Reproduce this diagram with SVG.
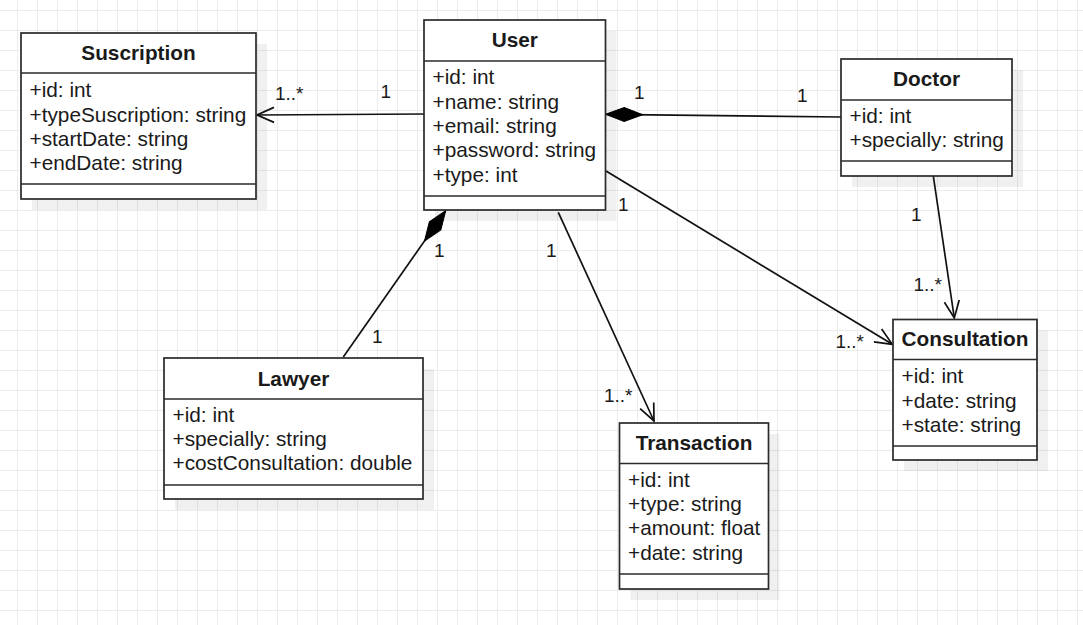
<svg xmlns="http://www.w3.org/2000/svg" width="1083" height="625" viewBox="0 0 1083 625">
<style>
.box{fill:#fff;stroke:#2a2a2a;stroke-width:1.7}
.sep{stroke:#2a2a2a;stroke-width:1.7}
.shadow{fill:#000;fill-opacity:0.06}
.title{font-family:"Liberation Sans",Arial,sans-serif;font-size:20.8px;font-weight:bold;fill:#1a1a1a;text-anchor:middle}
.attr{font-family:"Liberation Sans",Arial,sans-serif;font-size:20.8px;fill:#1a1a1a}
.lbl{font-family:"Liberation Sans",Arial,sans-serif;font-size:19px;fill:#1a1a1a}
.edge{fill:none;stroke:#111;stroke-width:1.7}
</style>
<defs>
<pattern id="grid" x="17" y="10" width="20" height="20" patternUnits="userSpaceOnUse">
<path d="M0.5 0V20M0 0.5H20" stroke="#ececec" stroke-width="1" fill="none"/>
</pattern>
<marker id="open" markerUnits="userSpaceOnUse" markerWidth="22" markerHeight="20" viewBox="-20 -10 22 20" refX="0" refY="0" orient="auto" overflow="visible">
<path d="M-17,-7.5 L0,0 L-17,7.5" fill="none" stroke="#111" stroke-width="1.7"/>
</marker>
<marker id="diamond" markerUnits="userSpaceOnUse" markerWidth="40" markerHeight="20" viewBox="0 -10 40 20" refX="0" refY="0" orient="auto" overflow="visible">
<path d="M0,0 L18.5,-7 L37,0 L18.5,7 Z" fill="#000" stroke="#000" stroke-width="1"/>
</marker>
</defs>
<rect width="1083" height="625" fill="#fff"/>
<rect width="1083" height="625" fill="url(#grid)"/>

<g id="connectors">
<path class="edge" d="M424,114 L257,115" marker-end="url(#open)"/>
<path class="edge" d="M605.7,114.3 L841,117" marker-start="url(#diamond)"/>
<path class="edge" d="M445.7,210.7 L343.3,357" marker-start="url(#diamond)"/>
<path class="edge" d="M558.3,212.3 L654,421" marker-end="url(#open)"/>
<path class="edge" d="M606,171 L892.3,344.3" marker-end="url(#open)"/>
<path class="edge" d="M933.3,176 L954.3,318" marker-end="url(#open)"/>
<text class="lbl" x="275" y="100">1..*</text>
<text class="lbl" x="380.5" y="98.3">1</text>
<text class="lbl" x="634" y="99">1</text>
<text class="lbl" x="797" y="101.7">1</text>
<text class="lbl" x="434" y="256.5">1</text>
<text class="lbl" x="372" y="343.3">1</text>
<text class="lbl" x="546" y="256.7">1</text>
<text class="lbl" x="604" y="402.3">1..*</text>
<text class="lbl" x="618" y="210.7">1</text>
<text class="lbl" x="835.5" y="348.3">1..*</text>
<text class="lbl" x="911" y="221">1</text>
<text class="lbl" x="913.5" y="290.7">1..*</text>
</g>

<g id="suscription">
<rect class="shadow" x="32" y="44" width="235" height="166"/>
<rect class="box" x="21" y="33" width="235" height="166"/>
<line class="sep" x1="21" y1="73" x2="256" y2="73"/>
<line class="sep" x1="21" y1="184" x2="256" y2="184"/>
<text class="title" x="138.5" y="60">Suscription</text>
<text class="attr" x="29.5" y="97.3">+id: int</text>
<text class="attr" x="29.5" y="121.6">+typeSuscription: string</text>
<text class="attr" x="29.5" y="145.9">+startDate: string</text>
<text class="attr" x="29.5" y="170.2">+endDate: string</text>
</g>

<g id="user">
<rect class="shadow" x="435" y="31" width="181.5" height="190"/>
<rect class="box" x="424" y="20" width="181.5" height="190"/>
<line class="sep" x1="424" y1="61" x2="605.5" y2="61"/>
<line class="sep" x1="424" y1="196" x2="605.5" y2="196"/>
<text class="title" x="514.75" y="47">User</text>
<text class="attr" x="432.5" y="84.3">+id: int</text>
<text class="attr" x="432.5" y="108.7">+name: string</text>
<text class="attr" x="432.5" y="133">+email: string</text>
<text class="attr" x="432.5" y="157.3">+password: string</text>
<text class="attr" x="432.5" y="181.7">+type: int</text>
</g>

<g id="doctor">
<rect class="shadow" x="852" y="70" width="171" height="117"/>
<rect class="box" x="841" y="59" width="171" height="117"/>
<line class="sep" x1="841" y1="100" x2="1012" y2="100"/>
<line class="sep" x1="841" y1="161" x2="1012" y2="161"/>
<text class="title" x="926.5" y="86">Doctor</text>
<text class="attr" x="849.5" y="122.7">+id: int</text>
<text class="attr" x="849.5" y="147">+specially: string</text>
</g>

<g id="lawyer">
<rect class="shadow" x="175" y="369" width="259" height="141"/>
<rect class="box" x="164" y="358" width="259" height="141"/>
<line class="sep" x1="164" y1="399" x2="423" y2="399"/>
<line class="sep" x1="164" y1="485" x2="423" y2="485"/>
<text class="title" x="293.5" y="385.5">Lawyer</text>
<text class="attr" x="172.5" y="421.7">+id: int</text>
<text class="attr" x="172.5" y="446">+specially: string</text>
<text class="attr" x="172.5" y="470.3">+costConsultation: double</text>
</g>

<g id="transaction">
<rect class="shadow" x="630.5" y="434" width="149" height="166"/>
<rect class="box" x="619.5" y="423" width="149" height="166"/>
<line class="sep" x1="619.5" y1="463.5" x2="768.5" y2="463.5"/>
<line class="sep" x1="619.5" y1="574" x2="768.5" y2="574"/>
<text class="title" x="694" y="450">Transaction</text>
<text class="attr" x="628" y="486.7">+id: int</text>
<text class="attr" x="628" y="511">+type: string</text>
<text class="attr" x="628" y="535.3">+amount: float</text>
<text class="attr" x="628" y="559.6">+date: string</text>
</g>

<g id="consultation">
<rect class="shadow" x="904" y="330.5" width="144" height="140.5"/>
<rect class="box" x="893" y="319.5" width="144" height="140.5"/>
<line class="sep" x1="893" y1="359.5" x2="1037" y2="359.5"/>
<line class="sep" x1="893" y1="446" x2="1037" y2="446"/>
<text class="title" x="965" y="345.5">Consultation</text>
<text class="attr" x="901.5" y="383.3">+id: int</text>
<text class="attr" x="901.5" y="407.6">+date: string</text>
<text class="attr" x="901.5" y="431.9">+state: string</text>
</g>
</svg>
